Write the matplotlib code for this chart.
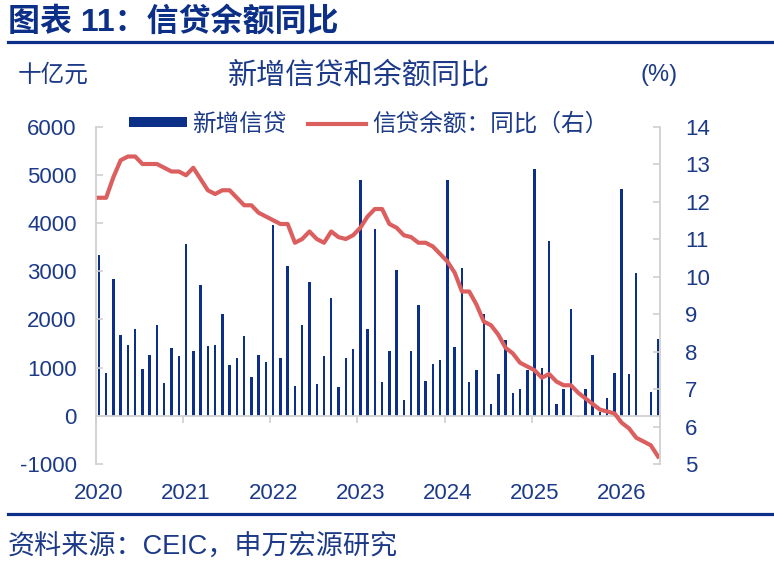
import numpy as np
import matplotlib
matplotlib.use('Agg')
import matplotlib.pyplot as plt

plt.rcParams['font.family'] = ['Liberation Sans', 'Noto Sans CJK SC', 'DejaVu Sans']
plt.rcParams['axes.unicode_minus'] = False

# 月度数据 2020-01 ~ 2026-06
years = ['2020', '2021', '2022', '2023', '2024', '2025', '2026']
new_loans = [
    3330, 890, 2830, 1685, 1460, 1790, 970, 1260, 1880, 670, 1415, 1235,
    3560, 1345, 2710, 1450, 1475, 2105, 1060, 1205, 1650, 805, 1255, 1115,
    3950, 1205, 3115, 625, 1880, 2785, 650, 1235, 2450, 600, 1190, 1380,
    4885, 1795, 3870, 700, 1345, 3030, 320, 1345, 2290, 715, 1070, 1150,
    4900, 1430, 3075, 710, 945, 2105, 240, 875, 1565, 480, 565, 945,
    5110, 990, 3625, 250, 560, 2220, -30, 560, 1270, 80, 370, 880,
    4700, 870, 2970, 0, 490, 1590,
]
loan_yoy = [
    12.1, 12.1, 12.65, 13.1, 13.2, 13.2, 13.0, 13.0, 13.0, 12.9, 12.8, 12.8,
    12.7, 12.9, 12.6, 12.3, 12.2, 12.3, 12.3, 12.1, 11.9, 11.9, 11.7, 11.6,
    11.5, 11.4, 11.4, 10.9, 11.0, 11.2, 11.0, 10.9, 11.2, 11.05, 11.0, 11.1,
    11.3, 11.6, 11.8, 11.8, 11.4, 11.3, 11.1, 11.05, 10.9, 10.9, 10.8, 10.6,
    10.4, 10.1, 9.6, 9.6, 9.25, 8.8, 8.7, 8.45, 8.1, 7.95, 7.7, 7.6,
    7.5, 7.3, 7.4, 7.2, 7.1, 7.1, 6.9, 6.75, 6.6, 6.45, 6.4, 6.35,
    6.1, 5.95, 5.7, 5.6, 5.5, 5.2,
]

navy = '#0c2f87'
txt = '#1c3a88'
red = '#dc5f5f'
grey = '#d0d0d0'

x = np.arange(len(new_loans))

fig = plt.figure(figsize=(7.74, 5.64), dpi=100)
ax = fig.add_axes([0.124, 0.1773, 0.729, 0.5984])
ax2 = ax.twinx()

bars = ax.bar(x, new_loans, width=0.34, color=navy, label='新增信贷')
line, = ax2.plot(x, loan_yoy, color=red, lw=3.0, label='信贷余额：同比（右）')

ax.set_xlim(-0.32, 77.3)
ax.set_ylim(-1000, 6000)
ax.set_yticks(range(-1000, 6001, 1000))
ax2.set_ylim(5, 14)
ax2.set_yticks(range(5, 15))

# 坐标轴样式
for s in ['top', 'right']:
    ax.spines[s].set_visible(False)
for s in ['top', 'bottom', 'left']:
    ax2.spines[s].set_visible(False)
ax.spines['left'].set_color(grey)
ax.spines['left'].set_linewidth(1.3)
ax.spines['bottom'].set_position(('data', 0))
ax.spines['bottom'].set_color(grey)
ax.spines['bottom'].set_linewidth(1.3)
ax2.spines['right'].set_color(grey)
ax2.spines['right'].set_linewidth(1.3)

ax.set_xticks(np.arange(0, len(x), 12) - 0.4)
ax.tick_params(axis='x', direction='out', length=5, color=grey, width=1.2, labelbottom=False)
ax.tick_params(axis='y', direction='in', length=5, color=grey, width=1.2,
               labelsize=16, labelcolor=txt, pad=14)
ax2.tick_params(axis='y', direction='in', length=5, color=grey, width=1.2,
                labelsize=16, labelcolor=txt, pad=18)

sec = ax.secondary_xaxis('bottom')
sec.set_xticks(np.arange(0, len(x), 12))
sec.set_xticklabels(years)
sec.spines['bottom'].set_visible(False)
sec.tick_params(length=0, labelsize=16, labelcolor=txt, pad=14)

ax.legend([bars, line], ['新增信贷', '信贷余额：同比（右）'], ncol=2, frameon=False,
          loc='upper left', bbox_to_anchor=(0.058, 1.04), borderpad=0, borderaxespad=0,
          handlelength=2.45, handleheight=0.3, handletextpad=0.25, columnspacing=0.9,
          prop={'size': 17}, labelcolor=txt)

# 标题和注释
fig.text(0.010, 0.961, '图表 11：信贷余额同比', fontsize=23, fontweight='bold',
         color=navy, va='center', ha='left')
fig.add_artist(plt.Line2D([0.010, 1.0], [0.9255, 0.9255], color=navy, lw=2.3))
fig.text(0.023, 0.867, '十亿元', fontsize=17, color=txt, va='center', ha='left')
fig.text(0.463, 0.867, '新增信贷和余额同比', fontsize=21, color=txt, va='center', ha='center')
fig.text(0.851, 0.867, '(%)', fontsize=17, color=txt, va='center', ha='center')
fig.add_artist(plt.Line2D([0.010, 1.0], [0.0887, 0.0887], color=navy, lw=2.3))
fig.text(0.010, 0.030, '资料来源：CEIC，申万宏源研究', fontsize=19.5, color=txt,
         va='center', ha='left')

fig.savefig('out.png', dpi=100)
